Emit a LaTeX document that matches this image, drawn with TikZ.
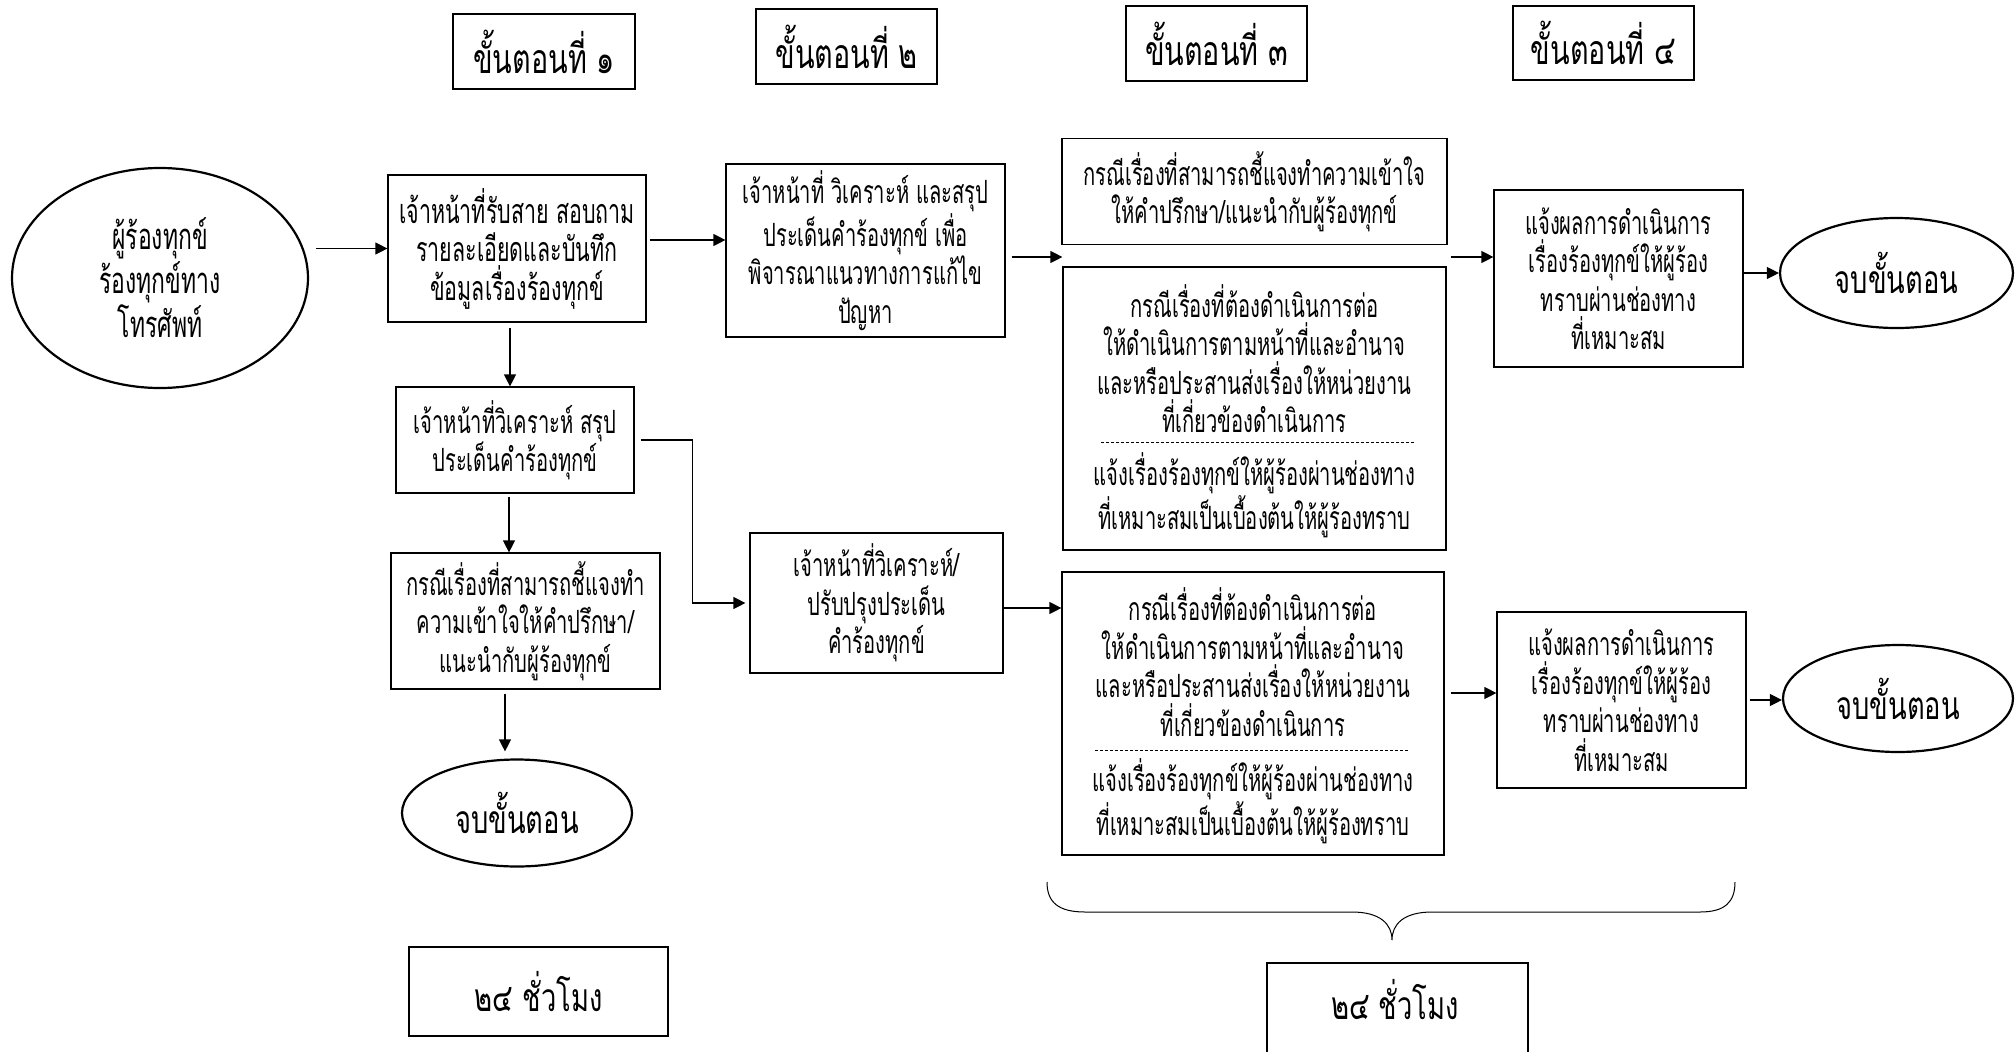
\documentclass[tikz,border=0pt]{standalone}
\usepackage{fontspec}
\newfontfamily\thai[Script=Thai,FakeStretch=0.63]{Loma}
\newfontfamily\thaib[Script=Thai,FakeStretch=0.7]{Loma}
\usetikzlibrary{arrows.meta,shapes.geometric}
\begin{document}
\begin{tikzpicture}[x=0.5pt,y=-0.5pt,
  font=\thai\fontsize{16}{19.25}\selectfont,
  box/.style={draw, line width=0.6pt, align=center, inner sep=0pt},
  txt/.style={align=center, inner sep=0pt},
  hdr/.style={draw, line width=1.3pt, align=center, inner sep=0pt, font=\thaib\fontsize{20.5}{24}\selectfont},
  oval/.style={draw, ellipse, line width=1.1pt, align=center, inner sep=0pt},
  endoval/.style={oval, font=\thaib\fontsize{19.5}{22}\selectfont},
  timefont/.style={font=\thaib\fontsize{19.5}{24}\selectfont},
  arr/.style={-{Triangle[length=6pt,width=6pt]}, line width=0.6pt},
  sep/.style={dashed, dash pattern=on 1.5pt off 1pt, line width=0.5pt},
]
\useasboundingbox (0,0) rectangle (2015,1051);
% headers
\node[hdr, minimum width=91pt, minimum height=37.5pt] (h1) at (544,51.5) {ขั้นตอนที่ ๑};
\node[hdr, minimum width=90.5pt, minimum height=37.5pt] (h2) at (846.5,46.5) {ขั้นตอนที่ ๒};
\node[hdr, minimum width=90.5pt, minimum height=37.5pt] (h3) at (1216.5,43.5) {ขั้นตอนที่ ๓};
\node[hdr, minimum width=90.5pt, minimum height=37pt] (h4) at (1603.5,43) {ขั้นตอนที่ ๔};
% nodes
\node[oval, minimum width=148pt, minimum height=110pt, font=\thai\fontsize{18.2}{22}\selectfont] (e1) at (160,278) {ผู้ร้องทุกข์\\ร้องทุกข์ทาง\\โทรศัพท์};
\node[box, minimum width=129pt, minimum height=73.5pt, font=\thai\fontsize{17}{19.25}\selectfont] (b1) at (517,248.5) {เจ้าหน้าที่รับสาย สอบถาม\\รายละเอียดและบันทึก\\ข้อมูลเรื่องร้องทุกข์};
\node[box, minimum width=139.5pt, minimum height=86.5pt] (b2) at (865.5,250.5) {เจ้าหน้าที่ วิเคราะห์ และสรุป\\ประเด็นคำร้องทุกข์ เพื่อ\\พิจารณาแนวทางการแก้ไข\\ปัญหา};
\node[box, minimum width=192.5pt, minimum height=53pt] (b3a) at (1254.5,191.5) {กรณีเรื่องที่สามารถชี้แจงทำความเข้าใจ\\ให้คำปรึกษา/แนะนำกับผู้ร้องทุกข์};
\node[box, minimum width=191.5pt, minimum height=141.5pt] (b3b) at (1254.5,408.5) {};
\node[txt] (t3b1) at (1254.5,358.5) {กรณีเรื่องที่ต้องดำเนินการต่อ\\ให้ดำเนินการตามหน้าที่และอำนาจ\\และหรือประสานส่งเรื่องให้หน่วยงาน\\ที่เกี่ยวข้องดำเนินการ};
\node[txt] (t3b2) at (1254.5,495) {แจ้งเรื่องร้องทุกข์ให้ผู้ร้องผ่านช่องทาง\\ที่เหมาะสมเป็นเบื้องต้นให้ผู้ร้องทราบ};
\draw[sep] (1101,442) -- (1414,442);
\node[box, minimum width=124.5pt, minimum height=88.5pt] (b4) at (1618.5,278.5) {แจ้งผลการดำเนินการ\\เรื่องร้องทุกข์ให้ผู้ร้อง\\ทราบผ่านช่องทาง\\ที่เหมาะสม};
\node[endoval, minimum width=116.5pt, minimum height=55pt] (end1) at (1896.5,273) {จบขั้นตอน};
\node[box, minimum width=119pt, minimum height=53pt] (b5) at (515,440) {เจ้าหน้าที่วิเคราะห์ สรุป\\ประเด็นคำร้องทุกข์};
\node[box, minimum width=134.5pt, minimum height=68pt] (b6) at (525.5,621) {กรณีเรื่องที่สามารถชี้แจงทำ\\ความเข้าใจให้คำปรึกษา/\\แนะนำกับผู้ร้องทุกข์};
\node[endoval, minimum width=115pt, minimum height=53.5pt] (endL) at (517,813) {จบขั้นตอน};
\node[box, minimum width=126.5pt, minimum height=70pt] (b7) at (876.5,603) {เจ้าหน้าที่วิเคราะห์/\\ปรับปรุงประเด็น\\คำร้องทุกข์};
\node[box, minimum width=191pt, minimum height=141.5pt] (b8) at (1253,713.5) {};
\node[txt] (t8a) at (1253,662) {กรณีเรื่องที่ต้องดำเนินการต่อ\\ให้ดำเนินการตามหน้าที่และอำนาจ\\และหรือประสานส่งเรื่องให้หน่วยงาน\\ที่เกี่ยวข้องดำเนินการ};
\node[txt] (t8b) at (1253,801) {แจ้งเรื่องร้องทุกข์ให้ผู้ร้องผ่านช่องทาง\\ที่เหมาะสมเป็นเบื้องต้นให้ผู้ร้องทราบ};
\draw[sep] (1095,750) -- (1410,750);
\node[box, minimum width=124.5pt, minimum height=88pt] (b9) at (1621.5,700) {แจ้งผลการดำเนินการ\\เรื่องร้องทุกข์ให้ผู้ร้อง\\ทราบผ่านช่องทาง\\ที่เหมาะสม};
\node[endoval, minimum width=115pt, minimum height=53.5pt] (end2) at (1898,698.5) {จบขั้นตอน};
% time boxes
\node[box, timefont, minimum width=129.5pt, minimum height=44.5pt] (tl) at (538.5,991.5) {๒๔ ชั่วโมง};
\node[timefont] (tr) at (1395,1000) {๒๔ ชั่วโมง};
\draw[line width=0.6pt] (1267,1052) |- (1528,963) -- (1528,1052);
% brace
\draw[line width=0.5pt] (1047,882) .. controls (1047,902) and (1058,912) .. (1085,912)
  -- (1352,912) .. controls (1380,912) and (1392,924) .. (1392,940)
  .. controls (1392,924) and (1404,912) .. (1432,912)
  -- (1700,912) .. controls (1725,912) and (1735,902) .. (1735,882);
% connectors
\draw[arr, shorten <=3.5pt] (b1.west -| e1.east) -- (b1.west);
\draw[arr, shorten <=1.5pt] ([yshift=4.25pt]b1.east) -- ([yshift=4.25pt]b1.east -| b2.west);
\draw[arr, shorten <=3pt] ([yshift=-3.25pt]b2.east) -- ([yshift=-3.25pt]b2.east -| b3b.west);
\draw[arr, shorten <=2pt] ([yshift=10.75pt]b4.west -| b3b.east) -- ([yshift=10.75pt]b4.west);
\draw[arr] (b4.east |- end1.west) -- (end1.west);
\draw[arr, shorten <=2.5pt] ([xshift=-3.5pt]b1.south) -- ([xshift=-3.5pt]b1.south |- b5.north);
\draw[arr, shorten <=3pt, shorten >=2pt] (b5.east) -- ++(58,0) |- (b7.west);
\draw[arr, shorten <=1.5pt] ([xshift=-3pt]b5.south) -- ([xshift=-3pt]b5.south |- b6.north);
\draw[arr, shorten <=2pt, shorten >=3.5pt] ([xshift=-6pt]endL.north |- b6.south) -- ([xshift=-6pt]endL.north);
\draw[arr] ([yshift=-2.5pt]b7.east) -- ([yshift=-2.5pt]b7.east -| b8.west);
\draw[arr, shorten <=3pt] ([yshift=3.5pt]b9.west -| b8.east) -- ([yshift=3.5pt]b9.west);
\draw[arr, shorten <=1.5pt] (b9.east) -- (b9.east -| end2.west);
\end{tikzpicture}
\end{document}
